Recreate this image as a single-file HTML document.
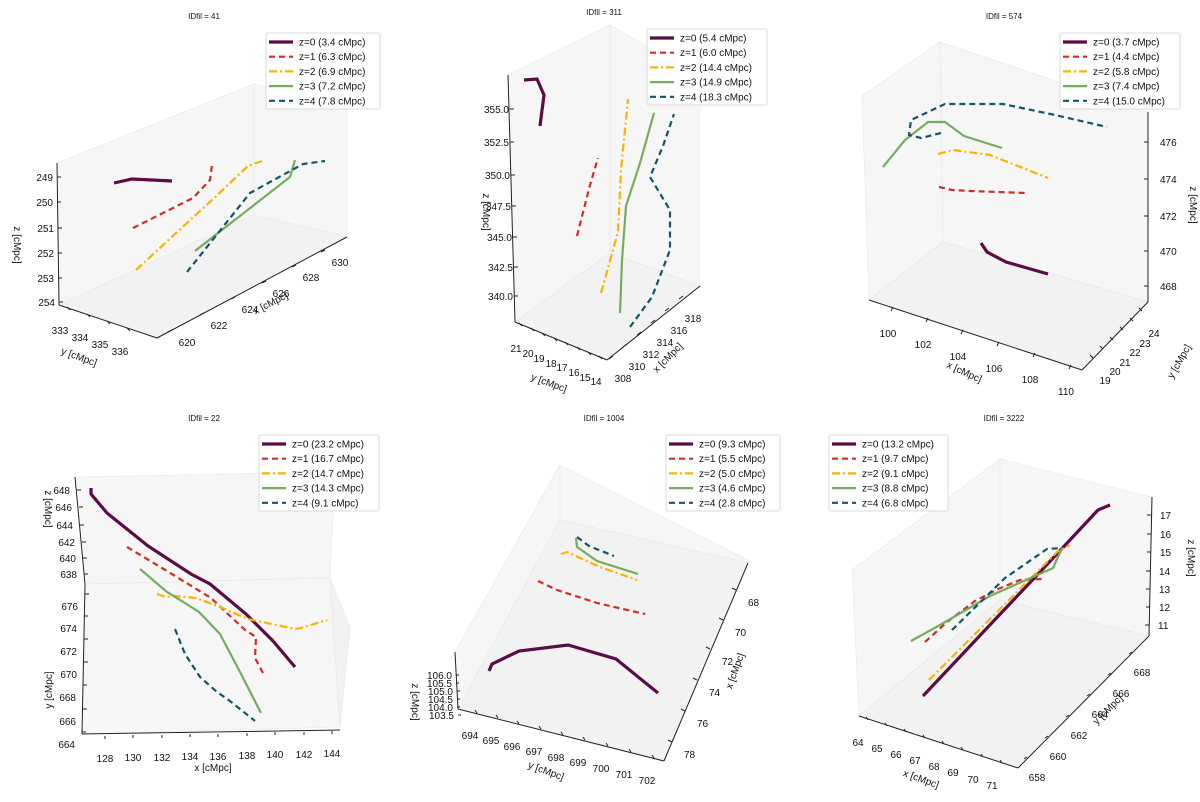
<!DOCTYPE html>
<html><head><meta charset="utf-8">
<style>
html,body{margin:0;padding:0;background:#fff;}
svg{display:block;font-family:"Liberation Sans","DejaVu Sans",sans-serif;}
</style></head>
<body>
<svg id="fig" width="1200" height="802" viewBox="0 0 1200 802" xmlns="http://www.w3.org/2000/svg"></svg>
<script>
// Series: projected (screen-plane) coordinates of each filament in its panel's view, units 0-400
const p1z0=[[114,183],[132,179],[172,181]];
const p1z1=[[133,228],[193,198],[210,180],[212,165]];
const p1z2=[[136,270],[213,199],[248,166],[262,161]];
const p1z3=[[195,251],[290,177],[295,160]];
const p1z4=[[187,272],[250,193],[303,164],[325,161]];
const p2z0=[[124,80],[137,79],[144,95],[140,126]];
const p2z1=[[177,236],[190,185],[198,158]];
const p2z2=[[201,293],[218,232],[221,170],[228,99]];
const p2z3=[[220,313],[222,260],[226,206],[240,163],[254,113]];
const p2z4=[[230,327],[252,297],[270,250],[270,210],[250,177],[263,146],[274,114]];
const p3z0=[[181,243],[187,252],[206,262],[248,274]];
const p3z1=[[139,187],[152,190],[170,191],[226,193]];
const p3z2=[[138,154],[153,150],[190,155],[248,178]];
const p3z3=[[83,167],[105,140],[128,122],[145,122],[164,136],[202,148]];
const p3z4=[[141,133],[121,138],[109,135],[111,120],[145,104],[203,104],[255,115],[307,127]];
const p4z0=[[91,88],[91,94],[107,113],[148,146],[191,174],[210,184],[246,214],[273,241],[295,267]];
const p4z1=[[127,147],[162,168],[211,198],[245,230],[256,237],[255,258],[263,273]];
const p4z2=[[157,194],[166,197],[175,196],[196,198],[220,207],[248,219],[295,229],[301,228],[327,220]];
const p4z3=[[140,169],[167,192],[185,203],[199,212],[220,234],[240,272],[261,313]];
const p4z4=[[175,229],[185,254],[200,277],[217,292],[230,301],[255,321]];
const p5z0=[[89,271],[92,264],[119,251],[168,245],[216,259],[258,293]];
const p5z1=[[138,181],[157,190],[197,203],[245,214]];
const p5z2=[[161,154],[167,152],[200,167],[237,180]];
const p5z3=[[176,138],[177,147],[197,161],[238,174]];
const p5z4=[[177,137],[189,146],[214,156]];
const p6z0=[[123,296],[204,210],[240,172],[298,110],[310,105]];
const p6z1=[[125,242],[147,222],[175,201],[198,189],[220,180],[242,179]];
const p6z2=[[129,280],[200,209],[258,151],[270,145]];
const p6z3=[[111,241],[140,225],[190,196],[253,168],[262,148]];
const p6z4=[[152,230],[205,178],[247,149],[262,148]];
// Legend lengths
const legend1=["3.4","6.3","6.9","7.2","7.8"];
const legend2=["5.4","6.0","14.4","14.9","18.3"];
const legend3=["3.7","4.4","5.8","7.4","15.0"];
const legend4=["23.2","16.7","14.7","14.3","9.1"];
const legend5=["9.3","5.5","5.0","4.6","2.8"];
const legend6=["13.2","9.7","9.1","8.8","6.8"];
// Tick labels
const t1z=["249","250","251","252","253","254"], t1y=["333","334","335","336"], t1x=["620","622","624","626","628","630"];
const t2z=["355.0","352.5","350.0","347.5","345.0","342.5","340.0"], t2y=["21","20","19","18","17","16","15","14"], t2x=["308","310","312","314","316","318"];
const t3z=["476","474","472","470","468"], t3x=["100","102","104","106","108","110"], t3y=["19","20","21","22","23","24"];
const t4z=["648","646","644","642","640","638"], t4y=["676","674","672","670","668","666","664"], t4x=["128","130","132","134","136","138","140","142","144"];
const t5z=["106.0","105.5","105.0","104.5","104.0","103.5"], t5y=["694","695","696","697","698","699","700","701","702"], t5x=["68","70","72","74","76","78"];
const t6z=["17","16","15","14","13","12","11"], t6x=["64","65","66","67","68","69","70","71"], t6y=["658","660","662","664","666","668"];

const NS="http://www.w3.org/2000/svg";
const fig=document.getElementById('fig');
const styles=[
 {c:'#5c0b47',w:3.2,d:''},
 {c:'#cf2e22',w:2.2,d:'6,4'},
 {c:'#fbb300',w:2.2,d:'8,3,2,3'},
 {c:'#74ad5e',w:2.2,d:''},
 {c:'#115569',w:2.2,d:'6,4'}];
function mk(tag,attrs,parent){const e=document.createElementNS(NS,tag);for(const k in attrs)e.setAttribute(k,attrs[k]);(parent||fig).appendChild(e);return e;}
function scaleU(ox){return u=>ox+u;}
function scaleV(oy){return v=>oy+v;}

const panels=[
 {ox:0,oy:0,title:"IDfil = 41",tx:204,ty:19,series:[p1z0,p1z1,p1z2,p1z3,p1z4],leg:legend1,lx:266,ly:33,lw:114,
  panes:[[[57,163],[254,84],[254,215],[59,305]],[[254,84],[347,110],[347,237],[254,215]],[[59,305],[254,215],[347,237],[157,338]]],
  axes:[[[57,163],[59,305]],[[59,305],[157,338]],[[157,338],[347,237]]],
  ticks:[{lab:t1z,p:[[57,177],[57,202],[58,228],[58,253],[58,278],[59,302]],dx:-4,dy:0,tl:[4,0],anchor:'end'},
         {lab:t1y,p:[[70,310],[90,317],[110,324],[130,331]],dx:-10,dy:20,tl:[-3,-3],anchor:'middle'},
         {lab:t1x,p:[[172,330],[204,313],[235,297],[266,281],[296,265],[325,250]],dx:15,dy:12,tl:[-4,2],anchor:'middle'}],
  labels:[{t:"z [cMpc]",x:14,y:245,r:90},{t:"y [cMpc]",x:78,y:360,r:20},{t:"x [cMpc]",x:272,y:306,r:-27}]},
 {ox:400,oy:0,title:"IDfil = 311",tx:204,ty:15,series:[p2z0,p2z1,p2z2,p2z3,p2z4],leg:legend2,lx:247,ly:29,lw:120,
  panes:[[[108,75],[210,25],[210,253],[115,322]],[[210,25],[300,77],[300,286],[210,253]],[[115,322],[210,253],[300,286],[207,360]]],
  axes:[[[108,75],[115,322]],[[115,322],[207,360]],[[207,360],[300,286]]],
  ticks:[{lab:t2z,p:[[110,109],[110,142],[111,175],[112,206],[113,237],[114,267],[114,296]],dx:-1,dy:0,tl:[4,0],anchor:'end'},
         {lab:t2y,p:[[122,326],[134,331],[145,336],[157,341],[168,345],[180,350],[191,355],[202,359]],dx:-6,dy:22,tl:[-3,-3],anchor:'middle'},
         {lab:t2x,p:[[213,356],[227,344],[241,332],[255,320],[269,308],[283,296]],dx:10,dy:22,tl:[-4,3],anchor:'middle'}],
  labels:[{t:"z [cMpc]",x:83,y:212,r:90},{t:"y [cMpc]",x:148,y:386,r:20},{t:"x [cMpc]",x:270,y:360,r:-45}]},
 {ox:800,oy:0,title:"IDfil = 574",tx:204,ty:19,series:[p3z0,p3z1,p3z2,p3z3,p3z4],leg:legend3,lx:260,ly:33,lw:120,
  panes:[[[62,96],[140,42],[143,242],[69,300]],[[140,42],[348,112],[348,302],[143,242]],[[69,300],[143,242],[348,302],[282,370]]],
  axes:[[[69,300],[282,370]],[[282,370],[348,302]],[[348,302],[348,112]]],
  ticks:[{lab:t3z,p:[[348,142],[348,179],[348,216],[348,251],[348,286]],dx:12,dy:0,tl:[-4,0],anchor:'start'},
         {lab:t3x,p:[[91,311],[126,322],[161,334],[197,346],[233,357],[269,369]],dx:-3,dy:22,tl:[2,-4],anchor:'middle'},
         {lab:t3y,p:[[293,358],[303,349],[313,340],[323,330],[333,321],[342,311]],dx:12,dy:22,tl:[-3,-3],anchor:'middle'}],
  labels:[{t:"x [cMpc]",x:163,y:375,r:25},{t:"y [cMpc]",x:382,y:363,r:-60},{t:"z [cMpc]",x:390,y:205,r:90}]},
 {ox:0,oy:400,title:"IDfil = 22",tx:204,ty:21,series:[p4z0,p4z1,p4z2,p4z3,p4z4],leg:legend4,lx:259,ly:35,lw:120,
  panes:[[[75,77],[335,72],[330,178],[85,184]],[[85,184],[330,178],[340,327],[82,334]],[[330,178],[350,228],[340,327]]],
  axes:[[[75,77],[85,184]],[[85,184],[82,334]],[[82,334],[340,330]]],
  ticks:[{lab:t4z,p:[[77,90],[79,107],[80,125],[82,142],[83,158],[84,174]],dx:-7,dy:0,tl:[4,0],anchor:'end'},
         {lab:t4y,p:[[85,194],[84,216],[84,239],[84,262],[83,285],[83,309],[82,332]],dx:-7,dy:12,tl:[4,0],anchor:'end'},
         {lab:t4x,p:[[105,336],[133,335],[162,335],[190,334],[218,334],[247,333],[275,332],[304,332],[332,331]],dx:0,dy:22,tl:[0,3],anchor:'middle'}],
  labels:[{t:"z [cMpc]",x:45,y:109,r:90},{t:"y [cMpc]",x:52,y:290,r:-90},{t:"x [cMpc]",x:213,y:371,r:0}]},
 {ox:400,oy:400,title:"IDfil = 1004",tx:204,ty:21,series:[p5z0,p5z1,p5z2,p5z3,p5z4],leg:legend5,lx:266,ly:35,lw:114,
  panes:[[[55,252],[160,65],[160,120],[58,309]],[[160,65],[351,162],[348,163],[160,120]],[[58,309],[160,120],[348,163],[264,361]]],
  axes:[[[55,252],[58,309]],[[58,309],[264,361]],[[264,361],[348,163]]],
  ticks:[{lab:t5z,p:[[56,275],[56,283],[57,291],[57,299],[57,307],[58,315]],dx:-4,dy:0,tl:[3,0],anchor:'end'},
         {lab:t5y,p:[[77,313],[98,318],[119,324],[141,329],[163,335],[185,340],[208,346],[231,352],[254,358]],dx:-7,dy:22,tl:[-2,-3],anchor:'middle'},
         {lab:t5x,p:[[336,190],[323,220],[310,249],[297,280],[285,311],[272,342]],dx:12,dy:12,tl:[-4,-2],anchor:'start'}],
  labels:[{t:"z [cMpc]",x:12,y:302,r:90},{t:"y [cMpc]",x:145,y:374,r:20},{t:"x [cMpc]",x:338,y:272,r:-70}]},
 {ox:800,oy:400,title:"IDfil = 3222",tx:204,ty:21,series:[p6z0,p6z1,p6z2,p6z3,p6z4],leg:legend6,lx:29,ly:35,lw:119,
  panes:[[[52,170],[200,59],[200,200],[59,316]],[[200,59],[352,97],[349,236],[200,200]],[[59,316],[200,200],[349,236],[218,368]]],
  axes:[[[59,316],[218,368]],[[218,368],[349,236]],[[352,97],[349,236]]],
  ticks:[{lab:t6z,p:[[351,115],[351,134],[351,152],[350,171],[350,189],[350,207],[349,225]],dx:9,dy:0,tl:[-4,0],anchor:'start'},
         {lab:t6x,p:[[68,320],[87,326],[106,332],[125,338],[144,344],[163,350],[183,357],[202,363]],dx:-10,dy:22,tl:[-2,-3],anchor:'middle'},
         {lab:t6y,p:[[227,357],[248,336],[269,315],[290,294],[311,273],[332,252]],dx:10,dy:20,tl:[-3,2],anchor:'middle'}],
  labels:[{t:"x [cMpc]",x:120,y:382,r:20},{t:"y [cMpc]",x:310,y:312,r:-45},{t:"z [cMpc]",x:388,y:158,r:90}]}
];

panels.forEach((P,pi)=>{
  const U=scaleU(P.ox), V=scaleV(P.oy);
  const g=mk('g',{});
  
  
  P.panes.forEach((pn,k)=>{
    const e=mk('polygon',{points:pn.map(p=>U(p[0])+','+V(p[1])).join(' '),fill:k==2?'#f2f2f2':'#f6f6f6',stroke:'#e6e6e6','stroke-width':0.6},g);
    
    
  });
  P.axes.forEach(a=>{
    const e=mk('line',{x1:U(a[0][0]),y1:V(a[0][1]),x2:U(a[1][0]),y2:V(a[1][1]),stroke:'#222','stroke-width':1},g);
    
    
  });
  P.ticks.forEach((T,ai)=>{
    T.p.forEach((p,i)=>{
      const tk=mk('line',{x1:U(p[0]),y1:V(p[1]),x2:U(p[0]+T.tl[0]),y2:V(p[1]+T.tl[1]),stroke:'#222','stroke-width':1},g);
      
      
      const t=mk('text',{x:U(p[0]+T.dx),y:V(p[1]+T.dy)+4,'font-size':10,'text-anchor':T.anchor,fill:'#111'},g);
      
      
      t.textContent=T.lab[i];
    });
  });
  P.labels.forEach(L=>{
    const t=mk('text',{x:U(L.x),y:V(L.y),'font-size':10,'text-anchor':'middle',fill:'#111',transform:`rotate(${L.r} ${U(L.x)} ${V(L.y)})`},g);
    
    
    t.textContent=L.t;
  });
  P.series.forEach((s,k)=>{
    const st=styles[k];
    const e=mk('polyline',{points:s.map(p=>U(p[0])+','+V(p[1])).join(' '),fill:'none',stroke:st.c,'stroke-width':st.w,'stroke-dasharray':st.d},g);
    
    
  });
  const tt=mk('text',{x:U(P.tx),y:V(P.ty),'font-size':8,'text-anchor':'middle',fill:'#111'},g);
  
  
  tt.textContent=P.title;
  const lg=mk('g',{},g);
  
  
  mk('rect',{x:U(P.lx),y:V(P.ly),width:P.lw,height:76,rx:2,fill:'#fff','fill-opacity':0.85,stroke:'#d0d0d0','stroke-width':0.8},lg);
  P.leg.forEach((v,k)=>{
    const st=styles[k];
    const yy=V(P.ly+9+k*14.7);
    const ln=mk('line',{x1:U(P.lx+3),y1:yy,x2:U(P.lx+27),y2:yy,stroke:st.c,'stroke-width':st.w,'stroke-dasharray':st.d},lg);
    
    
    const t=mk('text',{x:U(P.lx+33),y:yy+3.5,'font-size':10,fill:'#111'},lg);
    
    
    t.textContent=`z=${k} (${v} cMpc)`;
  });
});
</script>
</body></html>
